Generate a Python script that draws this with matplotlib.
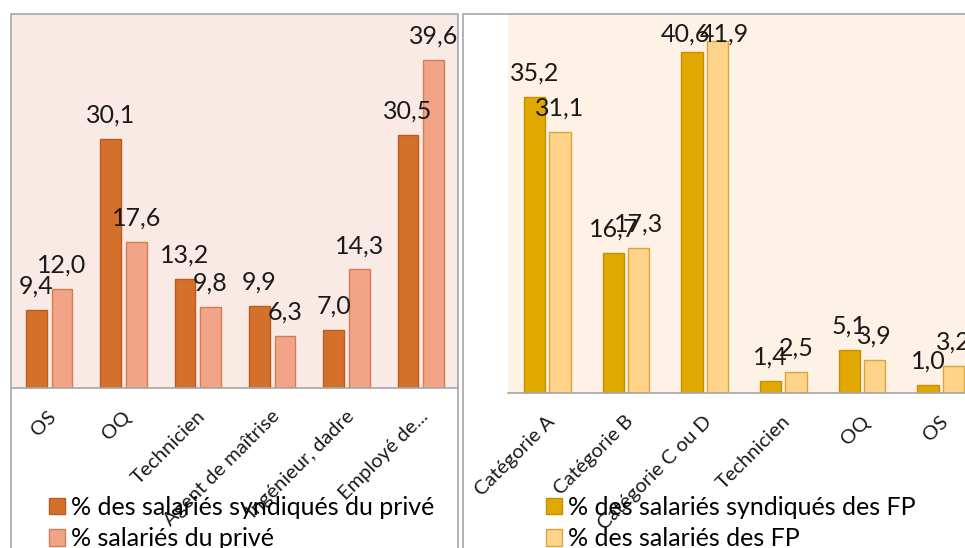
import matplotlib.pyplot as plt
from matplotlib.patches import Rectangle
import numpy as np

# données
cat_prive = ['OS', 'OQ', 'Technicien', 'Agent de maîtrise', 'Ingénieur, dadre', 'Employé de...']
synd_prive = [9.4, 30.1, 13.2, 9.9, 7.0, 30.5]
sal_prive = [12.0, 17.6, 9.8, 6.3, 14.3, 39.6]

cat_fp = ['Catégorie A', 'Catégorie B', 'Catégorie C ou D', 'Technicien', 'OQ', 'OS']
synd_fp = [35.2, 16.7, 40.6, 1.4, 5.1, 1.0]
sal_fp = [31.1, 17.3, 41.9, 2.5, 3.9, 3.2]

leg_prive = ['% des salariés syndiqués du privé', '% salariés du privé']
leg_fp = ['% des salariés syndiqués des FP', '% des salariés des FP']

plt.rcParams['font.family'] = ['Lato', 'DejaVu Sans']

W, H = 965, 548
fig = plt.figure(figsize=(W / 100, H / 100), dpi=100)


def px(x0, y_top, x1, y_bot):
    return [x0 / W, (H - y_bot) / H, (x1 - x0) / W, (y_bot - y_top) / H]


# cadres des deux graphiques
fig.add_artist(Rectangle((11 / W, -0.05), (458 - 11) / W, (H - 14) / H + 0.05,
                         transform=fig.transFigure, fill=False, ec='#A6A6A6', lw=1.2))
fig.add_artist(Rectangle((463 / W, -0.05), 0.6, (H - 14) / H + 0.05,
                         transform=fig.transFigure, fill=False, ec='#A6A6A6', lw=1.2))


def panel(rect, cats, v1, v2, c1, c2, e1, e2, bg, labels, leg_pos, width, off):
    ax = fig.add_axes(rect)
    ax.set_facecolor(bg)
    x = np.arange(len(cats))
    b1 = ax.bar(x - off, v1, width, color=c1, edgecolor=e1, linewidth=1, label=labels[0])
    b2 = ax.bar(x + off, v2, width, color=c2, edgecolor=e2, linewidth=1, label=labels[1])
    for bars, vals, side in ((b1, v1, -1), (b2, v2, 1)):
        for b, v in zip(bars, vals):
            # étiquette au-dessus de la barre, gardée dans la zone de tracé
            y = v + 2.85
            dx = 0
            if y > 42.7:
                y = 42.7
                dx = 5 * side
            ax.annotate(f'{v:.1f}'.replace('.', ','), (b.get_x() + b.get_width() / 2, y),
                        xytext=(dx, 0), textcoords='offset points',
                        ha='center', va='center', fontsize=18, color='#1a1a1a')
    ax.set_xlim(-0.5, len(cats) - 0.5)
    ax.set_ylim(0, 45)
    ax.set_yticks([])
    # étiquettes d'axe un peu décalées vers la droite, comme dans Excel
    ax.set_xticks(x + 0.06)
    ax.set_xticklabels(cats, rotation=45, ha='right', va='center',
                       rotation_mode='anchor', fontsize=14.5, color='#1a1a1a')
    ax.tick_params(axis='x', length=0, pad=18.5)
    for s in ['left', 'right', 'top']:
        ax.spines[s].set_visible(False)
    ax.spines['bottom'].set_color('#A6A6A6')
    ax.spines['bottom'].set_linewidth(1.2)
    fig.legend(handles=[b1, b2], labels=labels, loc='upper left',
               bbox_to_anchor=(leg_pos[0] / W, (H - leg_pos[1]) / H),
               frameon=False, fontsize=18, handlelength=0.64, handleheight=0.64,
               handletextpad=0.25, labelspacing=0.33, borderpad=0, borderaxespad=0)
    return ax


panel(px(12, 15, 458, 388), cat_prive, synd_prive, sal_prive,
      '#D5702B', '#F2A586', '#B85C22', '#D37C55', '#FAEAE6', leg_prive,
      (49, 496), 0.28, 0.172)
panel(px(508, 15, 980, 393), cat_fp, synd_fp, sal_fp,
      '#E0A800', '#FFD38A', '#C39100', '#D9A43A', '#FEF2E6', leg_fp,
      (546, 496), 0.27, 0.16)

fig.savefig('out.png', dpi=100)
